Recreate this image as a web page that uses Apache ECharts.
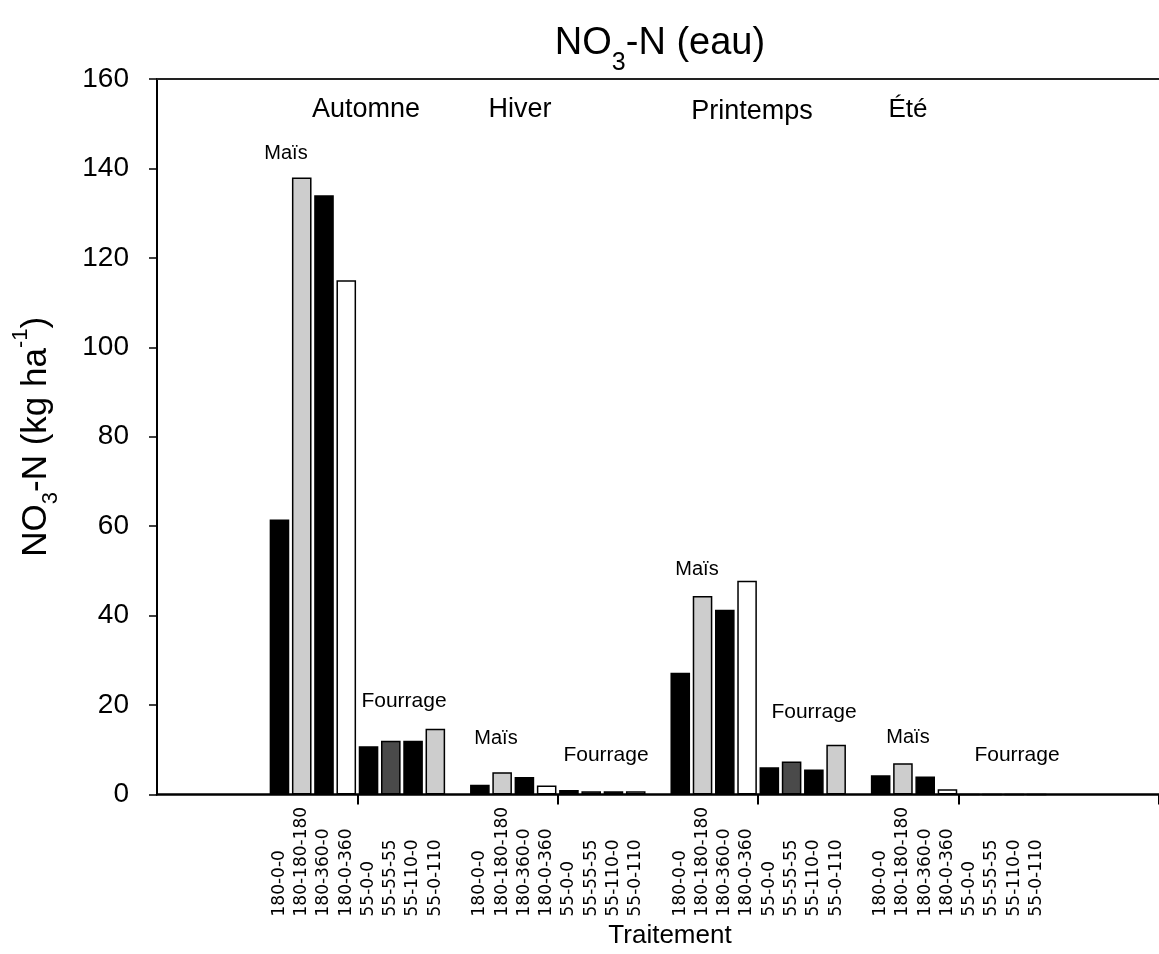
<!DOCTYPE html>
<html><head><meta charset="utf-8">
<script src="https://cdn.jsdelivr.net/npm/echarts@6/dist/echarts.min.js"></script>
<style>html,body{margin:0;padding:0;background:#fff}#c{width:1159px;height:954px}</style>
</head><body><div id="c"></div>
<script>
const seasons = ['Automne', 'Hiver', 'Printemps', 'Été'];
const treatments = ['180-0-0', '180-180-180', '180-360-0', '180-0-360', '55-0-0', '55-55-55', '55-110-0', '55-0-110'];
const automne   = [61.5, 138.0, 134.0, 115.0, 10.8, 12.0, 12.0, 14.7];
const hiver     = [2.2, 5.0, 3.9, 2.0, 1.0, 0.7, 0.7, 0.7];
const printemps = [27.2, 44.4, 41.3, 47.8, 6.1, 7.4, 5.6, 11.1];
const ete       = [4.3, 7.0, 4.0, 1.2, 0, 0, 0, 0];
const yMin = 0, yMax = 160, yStep = 20;

const seasonValues = [automne, hiver, printemps, ete];
const fills = ['#000000', '#cdcdcd', '#000000', '#ffffff', '#000000', '#4a4a4a', '#000000', '#cdcdcd'];
const FONT = '"Liberation Sans", Arial, sans-serif';

const cats = [], vals = [];
function blank() { cats.push(''); vals.push(null); }
for (let i = 0; i < 5; i++) blank();
seasons.forEach((s, si) => {
  if (si > 0) blank();
  treatments.forEach((t, ti) => {
    cats.push(t);
    vals.push({ value: seasonValues[si][ti], itemStyle: { color: fills[ti] } });
  });
});
for (let i = 0; i < 5; i++) blank();

const notes = [
  { t: 'Automne', x: 366, y: 110, s: 27 },
  { t: 'Hiver', x: 520, y: 110, s: 27 },
  { t: 'Printemps', x: 752, y: 112, s: 27 },
  { t: 'Été', x: 908, y: 110, s: 26 },
  { t: 'Maïs', x: 286, y: 153, s: 20 },
  { t: 'Fourrage', x: 404, y: 701, s: 21 },
  { t: 'Maïs', x: 496, y: 738, s: 20 },
  { t: 'Fourrage', x: 606, y: 755, s: 21 },
  { t: 'Maïs', x: 697, y: 569, s: 20 },
  { t: 'Fourrage', x: 814, y: 712, s: 21 },
  { t: 'Maïs', x: 908, y: 737, s: 20 },
  { t: 'Fourrage', x: 1017, y: 755, s: 21 },
  { t: 'Traitement', x: 670, y: 936, s: 26 }
];

const graphics = notes.map(n => ({
  type: 'text', x: n.x, y: n.y, silent: true,
  style: { text: n.t, fill: '#000', font: n.s + 'px ' + FONT, align: 'center', verticalAlign: 'middle', textAlign: 'center', textVerticalAlign: 'middle' }
}));
graphics.push({
  type: 'text', x: 660, y: 44, silent: true,
  style: {
    text: '{a|NO}{s|3}{a|-N (eau)}', align: 'center', verticalAlign: 'middle', textAlign: 'center', textVerticalAlign: 'middle',
    rich: {
      a: { fontSize: 38, fontFamily: FONT, lineHeight: 64, fill: '#000', color: '#000', verticalAlign: 'middle' },
      s: { fontSize: 25, fontFamily: FONT, lineHeight: 25, fill: '#000', color: '#000', verticalAlign: 'bottom' }
    }
  }
});

const chart = echarts.init(document.getElementById('c'), null, { renderer: 'canvas' });
chart.setOption({
  animation: false,
  backgroundColor: '#fff',
  grid: { left: 157, top: 79, width: 1010, height: 715.5 },
  xAxis: [{
    type: 'category', data: cats, boundaryGap: true,
    axisLine: { show: true, lineStyle: { color: '#000', width: 2.5 } },
    axisTick: { show: true, length: 10, lineStyle: { color: '#000', width: 2 },
      interval: (i) => cats[i] === '55-0-0' },
    axisLabel: { interval: 0, rotate: 90, align: 'left', verticalAlign: 'middle', margin: 122,
      fontFamily: '"DejaVu Sans", sans-serif', fontSize: 17, color: '#000' },
    splitLine: { show: false }
  }, {
    type: 'category', data: cats, position: 'top', boundaryGap: true,
    axisLine: { show: true, lineStyle: { color: '#222', width: 2 } },
    axisTick: { show: false }, axisLabel: { show: false }, splitLine: { show: false }
  }],
  yAxis: {
    type: 'value', min: yMin, max: yMax, interval: yStep,
    axisLine: { show: true, lineStyle: { color: '#000', width: 2 } },
    axisTick: { show: true, length: 8, lineStyle: { color: '#000', width: 1.5 } },
    axisLabel: { fontFamily: FONT, fontSize: 28, color: '#000', margin: 28 },
    splitLine: { show: false },
    name: '{a|NO}{s|3}{a|-N (kg ha}{p|-1}{a|)}',
    nameLocation: 'middle', nameRotate: 90, nameGap: 95,
    nameTextStyle: {
      rich: {
        a: { fontSize: 35, fontFamily: FONT, color: '#000', lineHeight: 52, verticalAlign: 'middle' },
        s: { fontSize: 22, fontFamily: FONT, color: '#000', lineHeight: 22, verticalAlign: 'bottom' },
        p: { fontSize: 22, fontFamily: FONT, color: '#000', lineHeight: 22, verticalAlign: 'top' }
      }
    }
  },
  series: [{
    type: 'bar', data: vals, barCategoryGap: '12%',
    itemStyle: { borderColor: '#000', borderWidth: 1.5 },
    xAxisIndex: 0
  }],
  graphic: graphics
});
</script></body></html>
